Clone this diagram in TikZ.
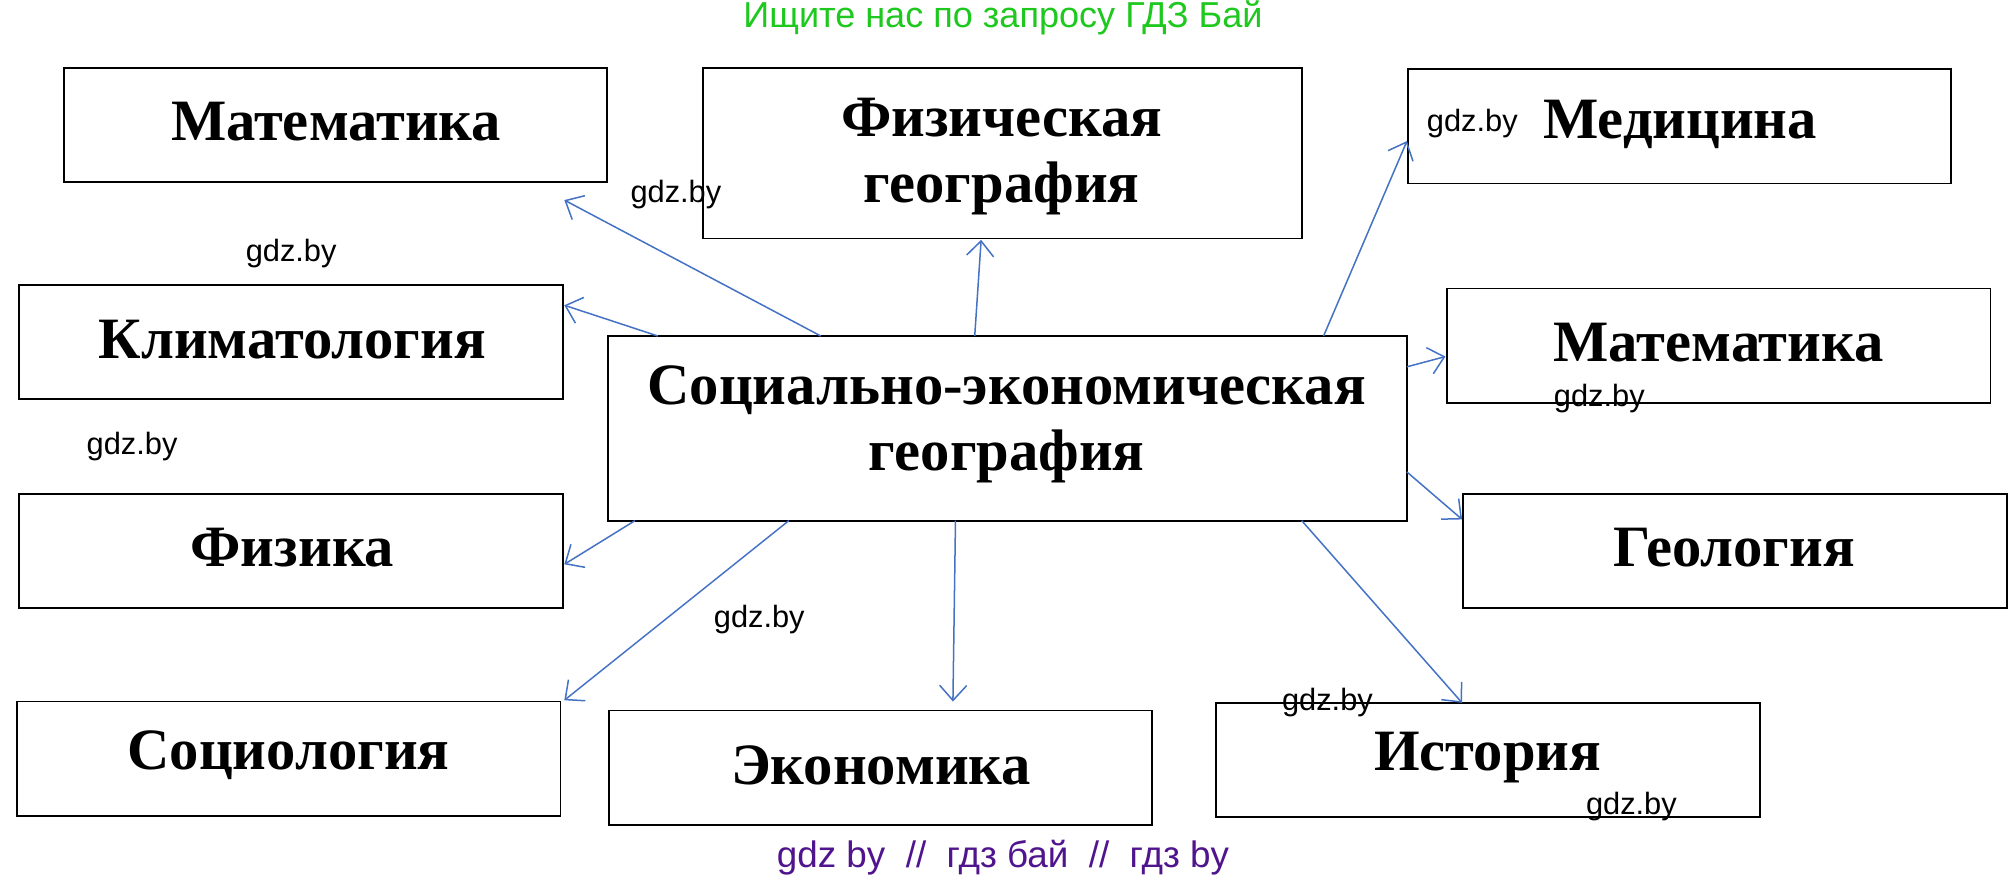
\documentclass[tikz,border=0pt]{standalone}
\usetikzlibrary{arrows.meta}
\usepackage{fontspec}
\setmainfont{Liberation Serif}
\newfontfamily\wm{Liberation Sans}
\definecolor{arr}{RGB}{68,114,196}
\definecolor{grn}{RGB}{30,200,30}
\definecolor{prp}{RGB}{80,20,140}
\begin{document}
\begin{tikzpicture}[x=0.03cm,y=-0.03cm,
 box/.style={draw,line width=1.2pt,inner sep=0pt},
 lab/.style={font=\fontsize{39}{44}\selectfont\bfseries,align=center},
 wmk/.style={font=\wm\fontsize{20.5}{24}\selectfont},
 ar/.style={draw=arr,line width=1pt,-{Straight Barb[length=10pt,width=18pt]}}]
\useasboundingbox (0,0) rectangle (1568,688);
\draw[box] (50,53) rectangle (473,142); \node[lab] (m1) at (262,95) {Математика};
\draw[box] (548,53) rectangle (1015,186); \node[lab] (fg) at (781,122) {Физическая\\география};
\draw[box] (1098,54) rectangle (1521,143); \node[lab] (med) at (1310,97) {Медицина};
\draw[box] (15,222) rectangle (439,311); \node[lab] (kl) at (228,265) {Климатология};
\draw[box] (474,262) rectangle (1097,406); \node[lab] (c) at (785,331) {Социально-экономическая\\география};
\draw[box] (1128,225) rectangle (1552,314); \node[lab] (m2) at (1340,267) {Математика};
\draw[box] (15,385) rectangle (439,474); \node[lab] (fz) at (228,427) {Физика};
\draw[box] (1141,385) rectangle (1565,474); \node[lab] (geo) at (1352,427) {Геология};
\draw[box] (13,547) rectangle (437,636); \node[lab] (soc) at (225,589) {Социология};
\draw[box] (475,554) rectangle (898,643); \node[lab] (ek) at (687,597) {Экономика};
\draw[box] (948,548) rectangle (1372,637); \node[lab] (ist) at (1160,591) {История};
\coordinate (a1) at (640,262); \coordinate (b1) at (440,156);
\coordinate (a2) at (760,262); \coordinate (b2) at (765,187);
\coordinate (a3) at (1032,262); \coordinate (b3) at (1097,110);
\coordinate (a4) at (513,262); \coordinate (b4) at (440,238);
\coordinate (a5) at (1097,286); \coordinate (b5) at (1127,278);
\coordinate (a6) at (1097,368); \coordinate (b6) at (1140,405);
\coordinate (a7) at (495,406); \coordinate (b7) at (440,440);
\coordinate (a8) at (615,406); \coordinate (b8) at (440,546);
\coordinate (a9) at (745,406); \coordinate (b9) at (743,547);
\coordinate (a10) at (1015,406); \coordinate (b10) at (1140,548);
\foreach \i in {1,...,10} \draw[ar] (a\i) -- (b\i);
\foreach \p [count=\k] in {(527,152),(227,198),(103,348),(592,483),(1247,311),(1035,548),(1272,629),(1148,96)}
  \node[wmk] (w\k) at \p {gdz.by};
\node[font=\wm\fontsize{24}{28}\selectfont,text=grn] (t) at (782,14) {Ищите нас по запросу ГДЗ Бай};
\node[font=\wm\fontsize{24.5}{28}\selectfont,text=prp] (bt) at (782,669) {gdz by \ // \ гдз бай \ // \ гдз by};
\end{tikzpicture}
\end{document}
